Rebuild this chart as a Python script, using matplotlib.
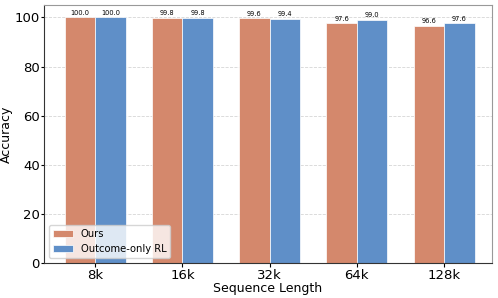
import numpy as np
import matplotlib
matplotlib.use("Agg")
import matplotlib.pyplot as plt

# data
lengths = ["8k", "16k", "32k", "64k", "128k"]
ours = [100.0, 99.8, 99.6, 97.6, 96.6]
outcome_rl = [100.0, 99.8, 99.4, 99.0, 97.6]

x = np.arange(len(lengths))
width = 0.35

fig, ax = plt.subplots(figsize=(4.98, 2.98), dpi=100)
fig.subplots_adjust(left=0.088, right=0.988, top=0.983, bottom=0.117)

b1 = ax.bar(x - width / 2, ours, width, label="Ours", color="#D4886C", edgecolor="white", linewidth=0.5)
b2 = ax.bar(x + width / 2, outcome_rl, width, label="Outcome-only RL", color="#5F8FC8", edgecolor="white", linewidth=0.5)

# value labels on top of the bars
for bars in (b1, b2):
    for rect in bars:
        h = rect.get_height()
        ax.text(rect.get_x() + rect.get_width() / 2, h + 0.6, f"{h:.1f}",
                ha="center", va="bottom", fontsize=4.8)

ax.set_xticks(x)
ax.set_xticklabels(lengths, fontsize=9.5)
ax.tick_params(axis="y", labelsize=9.5, length=2, pad=1)
ax.tick_params(axis="x", length=3, pad=1.5)
ax.set_ylim(0, 105)
ax.set_xlim(-0.59, 4.55)
ax.set_xlabel("Sequence Length", fontsize=9, labelpad=0)
ax.set_ylabel("Accuracy", fontsize=9, labelpad=1)

ax.yaxis.grid(True, linestyle="--", color="#cccccc", linewidth=0.6, alpha=0.8)
ax.set_axisbelow(True)
ax.spines["left"].set_color("#333333")
ax.spines["bottom"].set_color("#333333")
ax.spines["top"].set_color("#999999")
ax.spines["right"].set_color("#999999")

ax.legend(loc="lower left", fontsize=7.2, frameon=True, framealpha=0.8)

plt.savefig("out.png", dpi=100)
plt.close()
